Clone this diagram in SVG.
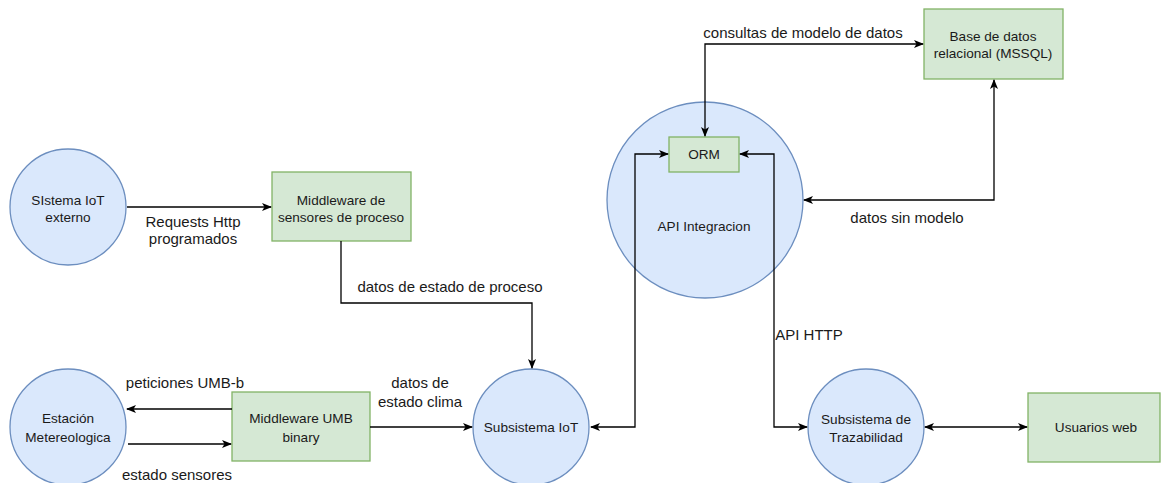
<svg xmlns="http://www.w3.org/2000/svg" width="1161" height="483" viewBox="0 0 1161 483">
<defs>
<style>
.c{fill:#dae8fc;stroke:#6c8ebf;stroke-width:1.3}
.b{fill:#d5e8d4;stroke:#82b366;stroke-width:1.3}
text{font-family:"Liberation Sans",Arial,sans-serif;font-size:13.6px;fill:#1a1a1a;text-anchor:middle}
text.l{font-size:15px}
.e{fill:none;stroke:#000;stroke-width:1.3}
</style>
<marker id="a" viewBox="0 0 10 10" refX="9" refY="5" markerWidth="10" markerHeight="10" markerUnits="userSpaceOnUse" orient="auto-start-reverse">
<path d="M0,1 L10,5 L0,9 L2.5,5 Z" fill="#000"/>
</marker>
</defs>
<rect width="1161" height="483" fill="#fff"/>
<g id="sistema-iot-externo">
<circle class="c" cx="68" cy="207" r="58"/>
<text x="68" y="205">SIstema IoT</text>
<text x="68" y="222">externo</text>
</g>
<g id="middleware-sensores">
<rect class="b" x="272" y="172" width="139" height="69"/>
<text x="341" y="205">Middleware de</text>
<text x="341" y="222">sensores de proceso</text>
</g>
<g id="estacion">
<circle class="c" cx="68" cy="427" r="58"/>
<text x="68" y="423">Estación</text>
<text x="68" y="442">Metereologica</text>
</g>
<g id="middleware-umb">
<rect class="b" x="232" y="392" width="138" height="69"/>
<text x="301" y="423">Middleware UMB</text>
<text x="301" y="442">binary</text>
</g>
<g id="subsistema-iot">
<circle class="c" cx="531" cy="427" r="58"/>
<text x="531" y="432">Subsistema IoT</text>
</g>
<g id="api-integracion">
<circle class="c" cx="705" cy="200" r="98"/>
<text x="704" y="231">API Integracion</text>
</g>
<g id="orm">
<rect class="b" x="669" y="137" width="70" height="35"/>
<text x="704" y="159">ORM</text>
</g>
<g id="base-datos">
<rect class="b" x="924" y="9" width="139" height="70"/>
<text x="993" y="41">Base de datos</text>
<text x="993" y="58">relacional (MSSQL)</text>
</g>
<g id="trazabilidad">
<circle class="c" cx="866" cy="427" r="58"/>
<text x="866" y="424">Subsistema de</text>
<text x="866" y="442">Trazabilidad</text>
</g>
<g id="usuarios-web">
<rect class="b" x="1028" y="393" width="132" height="69"/>
<text x="1096" y="432">Usuarios web</text>
</g>
<g id="connectors">
<path class="e" d="M127,207 H271" marker-end="url(#a)"/>
<path class="e" d="M341,241 V303 H532 V368" marker-end="url(#a)"/>
<path class="e" d="M232,409 H127" marker-end="url(#a)"/>
<path class="e" d="M128,444 H231" marker-end="url(#a)"/>
<path class="e" d="M370,427 H472" marker-end="url(#a)"/>
<path class="e" d="M591,427 H635 V154 H668" marker-start="url(#a)" marker-end="url(#a)"/>
<path class="e" d="M740,154 H774 V427 H807" marker-start="url(#a)" marker-end="url(#a)"/>
<path class="e" d="M705,136 V44 H923" marker-start="url(#a)" marker-end="url(#a)"/>
<path class="e" d="M804,200 H994 V80" marker-start="url(#a)" marker-end="url(#a)"/>
<path class="e" d="M925,427 H1027" marker-start="url(#a)" marker-end="url(#a)"/>
<text class="l" x="193" y="227">Requests Http</text>
<text class="l" x="193" y="244">programados</text>
<text class="l" x="450" y="292">datos de estado de proceso</text>
<text class="l" x="185" y="388">peticiones UMB-b</text>
<text class="l" x="177" y="480">estado sensores</text>
<text class="l" x="420" y="388">datos de</text>
<text class="l" x="420" y="407">estado clima</text>
<text class="l" x="803" y="38">consultas de modelo de datos</text>
<text class="l" x="907" y="223">datos sin modelo</text>
<text class="l" x="809" y="340">API HTTP</text>
</g>
</svg>
